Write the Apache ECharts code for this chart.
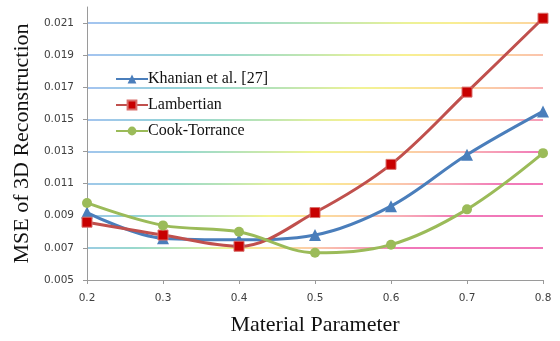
<!DOCTYPE html>
<html>
<head>
<meta charset="utf-8">
<script src="https://cdn.jsdelivr.net/npm/echarts@6/dist/echarts.min.js"></script>
<style>
  html, body { margin: 0; padding: 0; background: #fff; }
  #chart { width: 560px; height: 341px; }
</style>
</head>
<body>
<div id="chart"></div>
<script>
// Material parameter sweep and reconstruction error per reflectance model
const params = [0.2, 0.3, 0.4, 0.5, 0.6, 0.7, 0.8];
const khanian = [0.0092, 0.0076, 0.0075, 0.0078, 0.0096, 0.0128, 0.0155];
const lambertian = [0.0086, 0.0078, 0.0071, 0.0092, 0.0122, 0.0167, 0.0213];
const cookTorrance = [0.0098, 0.0084, 0.0080, 0.0067, 0.0072, 0.0094, 0.0129];
const seriesNames = ['Khanian et al. [27]', 'Lambertian', 'Cook-Torrance'];

const yMin = 0.005, yMax = 0.022, yStep = 0.002;
const xMin = 0.2, xMax = 0.8, xStep = 0.1;

// plot area in pixels
const plotLeft = 87, plotRight = 17, plotTop = 7, plotBottom = 58;
const W = 560;

// Rainbow ramp used for the horizontal gridlines
const ramp = [
  [0.00, '#86b0ec'],
  [0.20, '#6cc7c6'],
  [0.36, '#a3dc9c'],
  [0.52, '#f4f26c'],
  [0.68, '#fccc7c'],
  [0.82, '#f8a39c'],
  [1.00, '#ec4aa2']
];
// per gridline (bottom to top): start offset and stretch of the ramp
const gridShift = [
  [0.10, 1.30], // 0.005 (under the axis line)
  [0.10, 1.30], // 0.007
  [0.06, 1.15], // 0.009
  [0.04, 1.05], // 0.011
  [0.02, 0.98], // 0.013
  [0.01, 0.90], // 0.015
  [0.00, 0.84], // 0.017
  [0.00, 0.78], // 0.019
  [0.00, 0.70], // 0.021
  [0.00, 0.70]  // 0.022 (top edge)
];

function hexToRgb(h) {
  const n = parseInt(h.slice(1), 16);
  return [(n >> 16) & 255, (n >> 8) & 255, n & 255];
}
function rampColor(t) {
  if (t <= ramp[0][0]) return ramp[0][1];
  for (let i = 1; i < ramp.length; i++) {
    if (t <= ramp[i][0]) {
      const a = ramp[i - 1], b = ramp[i];
      const f = (t - a[0]) / (b[0] - a[0]);
      const ca = hexToRgb(a[1]), cb = hexToRgb(b[1]);
      const c = ca.map((v, k) => Math.round(v + (cb[k] - v) * f));
      return 'rgb(' + c.join(',') + ')';
    }
  }
  return ramp[ramp.length - 1][1];
}
function gridGradient(shift) {
  const stops = [];
  for (let i = 0; i <= 10; i++) {
    const o = i / 10;
    stops.push({ offset: o, color: rampColor(shift[0] + o * shift[1]) });
  }
  // global coordinates: spans the plot width
  return new echarts.graphic.LinearGradient(plotLeft, 0, W - plotRight, 0, stops, true);
}
const gridColors = gridShift.map((s, i) => {
  if (i === 0 || i === gridShift.length - 1) return 'rgba(0,0,0,0)';
  return gridGradient(s);
});

const tickFont = { fontFamily: 'DejaVu Sans', fontSize: 10.5, color: '#404040' };
const serif = 'Liberation Serif';

const chart = echarts.init(document.getElementById('chart'), null, { renderer: 'canvas' });

function makeSeries(name, values, color, symbol, size, markerColor, markerBorder) {
  return {
    name: name,
    type: 'line',
    data: params.map((p, i) => [p, values[i]]),
    smooth: 0.35,
    symbol: symbol,
    symbolSize: size,
    showAllSymbol: true,
    lineStyle: { color: color, width: 3 },
    itemStyle: {
      color: markerColor || color,
      borderColor: markerBorder || markerColor || color,
      borderWidth: markerBorder ? 1 : 0
    },
    emphasis: { disabled: true },
    animation: false
  };
}

chart.setOption({
  animation: false,
  backgroundColor: '#ffffff',
  grid: { left: plotLeft, right: plotRight, top: plotTop, bottom: plotBottom, containLabel: false },
  legend: {
    orient: 'vertical',
    left: 110,
    top: 66,
    itemWidth: 32,
    itemHeight: 11,
    itemGap: 10,
    data: seriesNames,
    textStyle: { fontFamily: serif, fontSize: 16, color: '#111', padding: [0, 0, 0, -5] }
  },
  xAxis: {
    type: 'value',
    min: xMin,
    max: xMax,
    interval: xStep,
    name: 'Material Parameter',
    nameLocation: 'middle',
    nameGap: 34,
    nameTextStyle: { fontFamily: serif, fontSize: 22, color: '#111' },
    axisLine: { show: true, lineStyle: { color: '#9a9a9a', width: 1 } },
    axisTick: { show: true, length: 4, lineStyle: { color: '#9a9a9a' } },
    axisLabel: { formatter: v => v.toFixed(1), margin: 13, ...tickFont },
    splitLine: { show: false }
  },
  yAxis: {
    type: 'value',
    min: yMin,
    max: yMax,
    interval: yStep,
    name: 'MSE of 3D Reconstruction',
    nameLocation: 'middle',
    nameGap: 52,
    nameTextStyle: { fontFamily: serif, fontSize: 22, color: '#111' },
    axisLine: { show: true, lineStyle: { color: '#9a9a9a', width: 1 } },
    axisTick: { show: true, length: 4, lineStyle: { color: '#9a9a9a' } },
    axisLabel: {
      showMaxLabel: false,
      margin: 13,
      formatter: v => (Math.abs(v - yMax) < 1e-9 ? '' : v.toFixed(3)),
      ...tickFont
    },
    splitLine: { show: true, lineStyle: { color: gridColors, width: 1.6 } }
  },
  series: [
    makeSeries(seriesNames[0], khanian, '#4a7ebb', 'triangle', 12),
    makeSeries(seriesNames[1], lambertian, '#c0504d', 'rect', 10, '#c80000', '#d9706c'),
    makeSeries(seriesNames[2], cookTorrance, '#9bbb59', 'circle', 10)
  ]
});
</script>
</body>
</html>
